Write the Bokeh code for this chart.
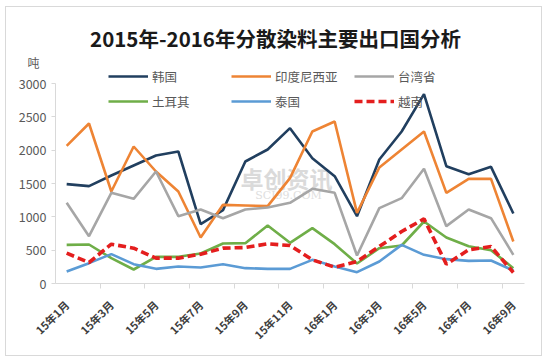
import math
from bokeh.plotting import figure
from bokeh.models import Legend, LegendItem, Label, FixedTicker, Range1d, LinearAxis
from bokeh.embed import file_html
from bokeh.resources import INLINE

months = ["15年1月", "15年2月", "15年3月", "15年4月", "15年5月", "15年6月", "15年7月",
          "15年8月", "15年9月", "15年10月", "15年11月", "15年12月",
          "16年1月", "16年2月", "16年3月", "16年4月", "16年5月", "16年6月", "16年7月",
          "16年8月", "16年9月"]

korea     = [1490, 1460, 1620, 1770, 1920, 1980, 890, 1100, 1830, 2010, 2330, 1880,
             1610, 1010, 1860, 2280, 2840, 1760, 1640, 1750, 1050]
indonesia = [2065, 2400, 1380, 2055, 1680, 1380, 690, 1180, 1170, 1160, 1580, 2280,
             2430, 1060, 1740, 2010, 2280, 1360, 1570, 1570, 630]
taiwan    = [1210, 710, 1360, 1270, 1680, 1010, 1110, 980, 1110, 1140, 1210, 1420,
             1360, 420, 1130, 1280, 1720, 860, 1110, 980, 430]
turkey    = [580, 585, 380, 210, 400, 400, 450, 600, 605, 870, 610, 830,
             590, 300, 530, 570, 930, 690, 560, 500, 230]
thailand  = [180, 305, 440, 290, 220, 255, 240, 290, 230, 220, 220, 355,
             255, 170, 330, 580, 430, 365, 340, 345, 195]
vietnam   = [455, 315, 590, 530, 380, 380, 440, 530, 540, 595, 570, 355,
             245, 330, 555, 780, 970, 290, 505, 555, 165]

y_ticks = [0, 500, 1000, 1500, 2000, 2500, 3000]
y_max = 3000
title_text = "2015年-2016年分散染料主要出口国分析"
unit_text = "吨"

FONT = "Noto Sans CJK SC"
x = list(range(len(months)))

# figure box: page x 5..542, y 6..356; frame from figure top to page y=282, 3000 at page y=82
frame_h = 276
y_end = y_max * frame_h / 200.0
unit_pos = y_max * (282 - 61) / 200.0

p = figure(width=537, height=350, margin=(6, 0, 0, 5),
           output_backend="svg", toolbar_location=None,
           x_range=Range1d(-0.5, len(months) - 0.5), y_range=Range1d(0, y_end),
           min_border_left=49, min_border_right=19, min_border_top=0, min_border_bottom=74)
p.outline_line_color = None
p.grid.grid_line_color = None
p.background_fill_color = "white"
p.border_fill_color = "white"
p.styles = {"border": "1px solid #d9d9d9"}

# y axis
p.yaxis.ticker = FixedTicker(ticks=y_ticks)
p.yaxis.bounds = (0, y_max)
p.yaxis.axis_line_color = "#d9d9d9"
p.yaxis.major_tick_line_color = "#d9d9d9"
p.yaxis.major_tick_in = 0
p.yaxis.major_tick_out = 4
p.yaxis.minor_tick_line_color = None
p.yaxis.major_label_text_font = FONT
p.yaxis.major_label_text_font_size = "12.5px"
p.yaxis.major_label_text_color = "#595959"
p.yaxis.major_label_standoff = 5

# unit label as a second (line-less) axis
unit_axis = LinearAxis(ticker=FixedTicker(ticks=[unit_pos]),
                       major_label_overrides={unit_pos: unit_text},
                       axis_line_color=None, major_tick_line_color=None,
                       minor_tick_line_color=None,
                       major_label_text_font=FONT, major_label_text_font_size="12px",
                       major_label_text_color="#595959", major_label_standoff=-30)
p.add_layout(unit_axis, "left")

# x axis
p.xaxis.ticker = FixedTicker(ticks=list(range(0, len(months), 2)),
                             minor_ticks=[i + 0.5 for i in range(1, len(months) - 1, 2)])
p.xaxis.major_label_overrides = {i: months[i] for i in range(0, len(months), 2)}
p.xaxis.axis_line_color = "#d9d9d9"
p.xaxis.major_tick_line_color = None
p.xaxis.minor_tick_line_color = "#d9d9d9"
p.xaxis.minor_tick_in = 0
p.xaxis.minor_tick_out = 5
p.xaxis.major_label_orientation = math.pi / 4
p.xaxis.major_label_text_font = FONT
p.xaxis.major_label_text_font_size = "11px"
p.xaxis.major_label_text_font_style = "bold"
p.xaxis.major_label_text_color = "#404040"
p.xaxis.major_label_standoff = 13

# watermark
p.add_layout(Label(x=231, y=106, x_units="screen", y_units="screen", text="卓创资讯",
                   text_font=FONT, text_font_size="23px", text_font_style="bold",
                   text_color="#dadada", text_align="center", text_baseline="middle",
                   level="underlay"))
p.add_layout(Label(x=233, y=88, x_units="screen", y_units="screen", text="SCI99.COM",
                   text_font="DejaVu Serif", text_font_size="11px",
                   text_color="#dedede", text_align="center", text_baseline="middle",
                   level="underlay"))

series = [
    ("韩国", korea, "#213f5f", 2.6, "solid"),
    ("印度尼西亚", indonesia, "#ee8434", 2.6, "solid"),
    ("台湾省", taiwan, "#a6a6a6", 2.6, "solid"),
    ("土耳其", turkey, "#6fae48", 2.6, "solid"),
    ("泰国", thailand, "#5b9bd5", 2.6, "solid"),
    ("越南", vietnam, "#e41e1e", 3.6, "8 4"),
]
items = []
for name, vals, color, lw, dash in series:
    r = p.line(x, vals, line_color=color, line_width=lw, line_dash=dash)
    items.append(LegendItem(label=name, renderers=[r]))

legend = Legend(items=items, ncols=3, orientation="horizontal", location=(53, 171),
                glyph_width=40, glyph_height=22, label_height=22, label_width=76,
                label_standoff=4, spacing=3, padding=0, margin=0,
                border_line_color=None, background_fill_alpha=0,
                label_text_font=FONT, label_text_font_size="12.5px",
                label_text_color="#595959")
p.add_layout(legend, "center")

p.add_layout(Label(x=220, y=246, x_units="screen", y_units="screen", text=title_text,
                   text_font=FONT, text_font_size="20.5px", text_font_style="bold",
                   text_color="#1a1a1a", text_align="center", text_baseline="middle"))

open("out.html", "w").write(file_html(p, INLINE))
